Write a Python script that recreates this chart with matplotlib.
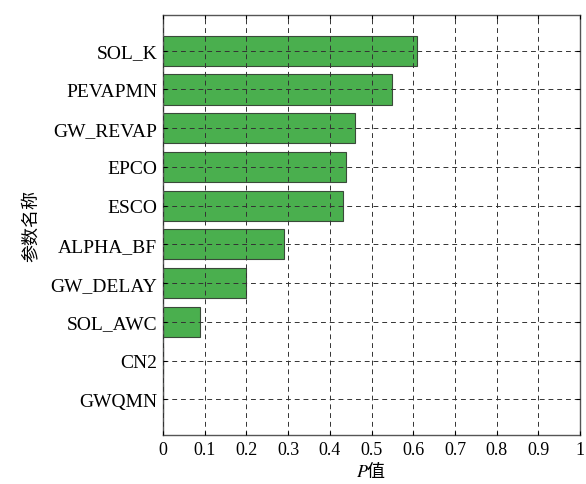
import numpy as np
import matplotlib.pyplot as plt

# 参数敏感性分析结果 (P值)
params = ["SOL_K", "PEVAPMN", "GW_REVAP", "EPCO", "ESCO",
          "ALPHA_BF", "GW_DELAY", "SOL_AWC", "CN2", "GWQMN"]
p_values = [0.61, 0.548, 0.46, 0.44, 0.432, 0.29, 0.2, 0.09, 0.0, 0.0]
xticks = [0, 0.1, 0.2, 0.3, 0.4, 0.5, 0.6, 0.7, 0.8, 0.9, 1]
xtick_labels = ["0", "0.1", "0.2", "0.3", "0.4", "0.5", "0.6", "0.7", "0.8", "0.9", "1"]

serif = ["Liberation Serif", "DejaVu Serif"]
cjk = ["Noto Sans CJK SC", "DejaVu Sans"]
plt.rcParams["mathtext.fontset"] = "stix"

fig = plt.figure(figsize=(5.86, 4.85), dpi=100)
ax = fig.add_axes([0.278, 0.101, 0.712, 0.866])

n = len(params)
y = np.arange(n, 0, -1)  # first parameter at the top
ax.barh(y, p_values, height=0.78, color="#4aaf4e", edgecolor="#3a4a3a",
        linewidth=0.8, zorder=1)

ax.set_xlim(0, 1)
ax.set_ylim(0.08, n + 0.92)
ax.set_xticks(xticks)
ax.set_xticklabels(xtick_labels, fontfamily=serif, fontsize=13)
ax.set_yticks(y)
ax.set_yticklabels(params, fontfamily=serif, fontsize=14)

ax.grid(True, linestyle=(0, (5, 4)), color="#333333", linewidth=0.7, zorder=2)
ax.set_axisbelow(False)
ax.tick_params(direction="in", length=3, top=True, right=True, pad=4)
for s in ax.spines.values():
    s.set_color("#555555")
    s.set_linewidth(1.0)

ax.set_xlabel("$P$值", fontfamily=cjk, fontsize=13, labelpad=2)
ax.set_ylabel("参数名称", fontfamily=cjk, fontsize=13, labelpad=8)

fig.savefig("out.png", dpi=100)
